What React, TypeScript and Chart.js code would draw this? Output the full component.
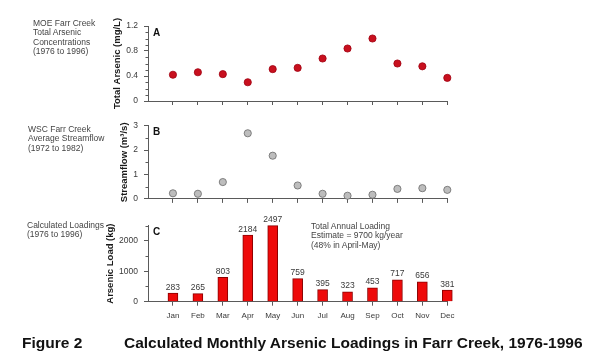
import React, { useEffect, useRef } from 'react';
import { Chart, registerables } from 'chart.js';

Chart.register(...registerables);

const months = ['Jan', 'Feb', 'Mar', 'Apr', 'May', 'Jun', 'Jul', 'Aug', 'Sep', 'Oct', 'Nov', 'Dec'];
const arsenicConc = [0.42, 0.46, 0.43, 0.3, 0.51, 0.53, 0.68, 0.84, 1.0, 0.6, 0.555, 0.37];
const streamflow = [0.23, 0.21, 0.69, 2.69, 1.77, 0.55, 0.21, 0.13, 0.17, 0.41, 0.44, 0.37];
const loads = [283, 265, 803, 2184, 2497, 759, 395, 323, 453, 717, 656, 381];

const concTicks = [0, 0.4, 0.8, 1.2];
const concMinor = [0.1, 0.2, 0.3, 0.5, 0.6, 0.7, 0.9, 1.0, 1.1];
const flowTicks = [0, 1, 2, 3];
const flowMinor = [0.5, 1.5, 2.5];
const loadTicks = [0, 1000, 2000];
const loadMinor = [500, 1500, 2500];

const FONT = '"Liberation Sans", Arial, Helvetica, sans-serif';
const AXIS = '#5a5a5a';
const TEXT = '#3a3a3a';

type Panel = {
  kind: 'scatter' | 'bar';
  top: number;
  height: number;
  padTop: number;
  padLeft: number;
  yWidth: number;
  xHeight: number;
  yMax: number;
  majors: number[];
  minors: number[];
  title: string;
  letter: string;
  values: number[];
  showMonths: boolean;
  pointFill: string;
  pointBorder: string;
};

const panels: Panel[] = [
  {
    kind: 'scatter', top: 0, height: 120, padTop: 26, padLeft: 111.3, yWidth: 36.7, xHeight: 19,
    yMax: 1.2, majors: concTicks, minors: concMinor, title: 'Total Arsenic (mg/L)', letter: 'A',
    values: arsenicConc, showMonths: false, pointFill: '#c8101e', pointBorder: '#a00010',
  },
  {
    kind: 'scatter', top: 110, height: 100, padTop: 15.7, padLeft: 118.3, yWidth: 29.7, xHeight: 9,
    yMax: 3, majors: flowTicks, minors: flowMinor, title: 'Streamflow (m³/s)', letter: 'B',
    values: streamflow, showMonths: false, pointFill: '#bdbdbd', pointBorder: '#6a6a6a',
  },
  {
    kind: 'bar', top: 205, height: 120, padTop: 20.5, padLeft: 104.3, yWidth: 43.7, xHeight: 23.3,
    yMax: 2500, majors: loadTicks, minors: loadMinor, title: 'Arsenic Load (kg)', letter: 'C',
    values: loads, showMonths: true, pointFill: '#ee0a0a', pointBorder: '#8a0000',
  },
];

function makeChart(canvas: HTMLCanvasElement, p: Panel): Chart {
  const extras = {
    id: 'extras',
    afterDraw(chart: any) {
      const ctx = chart.ctx;
      const y = chart.scales.y;
      const area = chart.chartArea;
      ctx.save();
      ctx.strokeStyle = AXIS;
      ctx.lineWidth = 1;
      for (const v of p.minors) {
        const py = Math.round(y.getPixelForValue(v)) + 0.5;
        ctx.beginPath();
        ctx.moveTo(area.left - 2.5, py);
        ctx.lineTo(area.left, py);
        ctx.stroke();
      }
      ctx.fillStyle = '#111';
      ctx.font = `bold 10px ${FONT}`;
      ctx.textAlign = 'left';
      ctx.textBaseline = 'middle';
      ctx.fillText(p.letter, area.left + 5, area.top + 7);
      if (p.kind === 'bar') {
        const meta = chart.getDatasetMeta(0);
        ctx.font = `8.5px ${FONT}`;
        ctx.fillStyle = TEXT;
        ctx.textAlign = 'center';
        ctx.textBaseline = 'bottom';
        meta.data.forEach((el: any, i: number) => {
          ctx.fillText(String(p.values[i]), el.x, el.y - 1.5);
        });
      }
      ctx.restore();
    },
  };

  const data = p.values.map((v, i) => ({ x: i + 1, y: v }));
  const dataset: any =
    p.kind === 'bar'
      ? {
          data,
          backgroundColor: p.pointFill,
          borderColor: p.pointBorder,
          borderWidth: 1,
          barThickness: 10,
          clip: false,
        }
      : {
          data,
          backgroundColor: p.pointFill,
          borderColor: p.pointBorder,
          borderWidth: 0.8,
          pointRadius: 3.6,
          clip: false,
        };

  return new Chart(canvas, {
    type: p.kind,
    data: { datasets: [dataset] },
    plugins: [extras],
    options: {
      responsive: false,
      animation: false,
      devicePixelRatio: 1,
      layout: { padding: { left: p.padLeft, right: 600 - 447.3, top: p.padTop, bottom: 0 } },
      plugins: { legend: { display: false }, tooltip: { enabled: false } },
      scales: {
        x: {
          type: 'linear',
          min: 0,
          max: 12,
          offset: false,
          afterBuildTicks: (s: any) => {
            s.ticks = months.map((_, i) => ({ value: i + 1 }));
          },
          afterFit: (s: any) => {
            s.height = p.xHeight;
          },
          grid: {
            offset: false,
            drawOnChartArea: false,
            drawTicks: true,
            tickLength: 4,
            color: AXIS,
            tickColor: AXIS,
            lineWidth: 1,
          },
          border: { display: true, color: AXIS, width: 1 },
          ticks: {
            autoSkip: false,
            maxRotation: 0,
            padding: 5.5,
            color: TEXT,
            font: { family: FONT, size: 8 },
            callback: (v: any) => (p.showMonths ? months[Number(v) - 1] : ''),
          },
        },
        y: {
          type: 'linear',
          min: 0,
          max: p.yMax,
          afterBuildTicks: (s: any) => {
            s.ticks = p.majors.map((v) => ({ value: v }));
          },
          afterFit: (s: any) => {
            s.width = p.yWidth;
          },
          grid: {
            drawOnChartArea: false,
            drawTicks: true,
            tickLength: 4,
            color: AXIS,
            tickColor: AXIS,
            lineWidth: 1,
          },
          border: { display: true, color: AXIS, width: 1 },
          ticks: {
            padding: 6,
            color: TEXT,
            font: { family: FONT, size: 8.5 },
            callback: (v: any) => String(v),
          },
          title: {
            display: true,
            text: p.title,
            color: '#1a1a1a',
            padding: 0,
            font: { family: FONT, size: 9.5, weight: 'bold', lineHeight: 1.2 },
          },
        },
      },
    } as any,
  });
}

function PanelCanvas({ p }: { p: Panel }) {
  const ref = useRef<HTMLCanvasElement | null>(null);
  useEffect(() => {
    if (!ref.current) return;
    const chart = makeChart(ref.current, p);
    return () => chart.destroy();
  }, [p]);
  return (
    <canvas
      ref={ref}
      width={600}
      height={p.height}
      style={{ position: 'absolute', left: 0, top: p.top, width: 600, height: p.height }}
    />
  );
}

const sideStyle: React.CSSProperties = {
  position: 'absolute',
  fontFamily: FONT,
  fontSize: 8.5,
  lineHeight: '9.4px',
  color: '#444',
  whiteSpace: 'nowrap',
};

const captionStyle: React.CSSProperties = {
  position: 'absolute',
  top: 334,
  fontFamily: FONT,
  fontWeight: 'bold',
  fontSize: 15.5,
  lineHeight: '17px',
  color: '#111',
  whiteSpace: 'nowrap',
};

export default function App() {
  return (
    <div
      style={{
        position: 'absolute',
        left: 0,
        top: 0,
        width: 600,
        height: 360,
        background: '#fff',
        overflow: 'hidden',
      }}
    >
      {panels.map((p) => (
        <PanelCanvas key={p.letter} p={p} />
      ))}
      <div style={{ ...sideStyle, left: 33, top: 19 }}>
        MOE Farr Creek
        <br />
        Total Arsenic
        <br />
        Concentrations
        <br />
        (1976 to 1996)
      </div>
      <div style={{ ...sideStyle, left: 28, top: 125 }}>
        WSC Farr Creek
        <br />
        Average Streamflow
        <br />
        (1972 to 1982)
      </div>
      <div style={{ ...sideStyle, left: 27, top: 221 }}>
        Calculated Loadings
        <br />
        (1976 to 1996)
      </div>
      <div style={{ ...sideStyle, left: 311, top: 222 }}>
        Total Annual Loading
        <br />
        Estimate = 9700 kg/year
        <br />
        (48% in April-May)
      </div>
      <div style={{ ...captionStyle, left: 22 }}>Figure 2</div>
      <div style={{ ...captionStyle, left: 124 }}>
        Calculated Monthly Arsenic Loadings in Farr Creek, 1976-1996
      </div>
    </div>
  );
}
